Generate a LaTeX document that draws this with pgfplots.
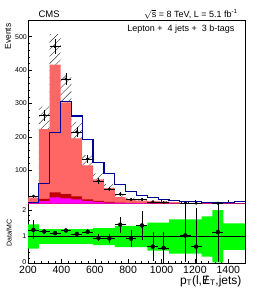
\documentclass[border=0pt]{standalone}
\usepackage{pgfplots}
\pgfplotsset{compat=1.18}
\usepackage{pgfplotstable}
\usepgfplotslibrary{fillbetween}
\usetikzlibrary{patterns.meta}
\usepackage{fontspec}
\setmainfont{Liberation Sans}
\definecolor{lred}{RGB}{255,102,102}
\definecolor{dred}{RGB}{190,0,0}
\definecolor{mag}{RGB}{255,0,255}
\definecolor{hblue}{RGB}{0,0,153}
\definecolor{gband}{RGB}{0,255,0}
\newcommand{\MET}{\ooalign{E\cr\hfil/\hfil}}

% edge tot drk mag blue hup hlo gup glo
\pgfplotstableread{
edge tot drk mag blue hup hlo gup glo
200 17.6 3 2 2 23 12 1.46 0.54
265 223 14 7 60 290 160 1.28 0.72
330 416 33 18 212 508 325 1.28 0.72
395 303 28 15 305 385 225 1.28 0.72
460 195 21 12 262 245 148 1.28 0.72
525 114 12 7 191 145 85 1.28 0.72
590 72 8 5 124 90 54 1.32 0.68
655 47 5 3 89 59 35 1.32 0.68
720 19.4 3 2 56 25 14 1.4 0.6
785 13.3 2 1.2 37 17 10 1.4 0.6
850 8.3 1.5 1 25 11 6 1.4 0.6
915 8 1 0.7 17 10.5 5.5 1.53 0.47
980 5.4 0.8 0.5 12 7 4 1.53 0.47
1045 4 0.6 0.4 9 5.2 2.8 1.65 0.35
1110 1.9 0.5 0.3 7 2.6 1.2 1.65 0.35
1175 1.6 0.4 0.3 5 2.2 1.0 1.65 0.35
1240 1.2 0.3 0.2 4 1.6 0.8 1.76 0.24
1305 0.86 0.3 0.2 3 1.2 0.5 2.0 0.02
1370 0.6 0.2 0.1 2 0.8 0.4 1.5 0.5
1435 0.5 0.2 0.1 5 0.7 0.3 1.5 0.5
1500 0.5 0.2 0.1 5 0.7 0.3 1.5 0.5
}\hist

\pgfplotstableread{
x y ex ey
232.5 22 32.5 4.7
297.5 265 32.5 16.3
362.5 470 32.5 21.7
427.5 373 32.5 19.3
492.5 215 32.5 14.7
557.5 134 32.5 11.6
622.5 68 32.5 8.2
687.5 43 32.5 6.6
752.5 28 32.5 5.3
817.5 12 32.5 3.5
882.5 12 32.5 3.5
947.5 5 32.5 2.2
1012.5 3 32.5 1.7
1142.5 2 32.5 1.4
1207.5 1 32.5 1.0
1337.5 1 32.5 1.0
}\data

\pgfplotstableread{
x y ex eyp eym
232.5 1.25 32.5 0.36 0.36
297.5 1.19 32.5 0.08 0.08
362.5 1.13 32.5 0.06 0.06
427.5 1.23 32.5 0.07 0.07
492.5 1.10 32.5 0.08 0.08
557.5 1.18 32.5 0.10 0.10
622.5 0.95 32.5 0.13 0.13
687.5 0.93 32.5 0.17 0.17
752.5 1.45 32.5 0.30 0.30
817.5 0.92 32.5 0.32 0.32
882.5 1.42 32.5 0.55 0.55
947.5 0.62 32.5 0.55 0.55
1012.5 0.57 32.5 0.60 0.57
1142.5 1.04 32.5 1.30 1.00
1207.5 0.62 32.5 1.45 0.62
1337.5 1.17 32.5 1.20 1.15
}\ratio

\pgfplotsset{
  rootstyle/.style={
    scale only axis,
    width=217pt,
    xmin=200, xmax=1500,
    tick align=inside,
    xtick pos=bottom, ytick pos=left,
    major tick length=4pt, minor tick length=2pt,
    tick style={black, line width=0.4pt},
    axis line style={line width=0.5pt},
    /pgf/number format/assume math mode=true,
    /pgf/number format/1000 sep={},
    xtick={200,400,...,1400},
    minor x tick num=4,
  }
}

\begin{document}
\begin{tikzpicture}
\begin{axis}[rootstyle,
  at={(28pt,-203.5pt)}, anchor=south west,
  height=183.5pt,
  ymin=0, ymax=550,
  ytick={100,200,300,400,500},
  minor y tick num=4,
  xticklabel=\empty,
  yticklabel style={font=\fontsize{7}{8}\selectfont, inner sep=1pt},
]
\addplot[const plot mark left, fill=lred, draw=none] table[x=edge, y=tot] {\hist} \closedcycle;
\addplot[const plot mark left, fill=dred, draw=none] table[x=edge, y=drk] {\hist} \closedcycle;
\addplot[const plot mark left, fill=mag, draw=none] table[x=edge, y=mag] {\hist} \closedcycle;
\addplot[const plot mark left, draw=none, name path=hu] table[x=edge, y=hup] {\hist};
\addplot[const plot mark left, draw=none, name path=hl] table[x=edge, y=hlo] {\hist};
\addplot[pattern={Lines[angle=45, distance=5pt, line width=0.4pt]}, pattern color=black!80] fill between[of=hu and hl];
\addplot[const plot mark left, hblue, line width=1.2pt] table[x=edge, y=blue] {\hist};
\addplot[only marks, mark=*, mark size=1.3pt, black,
  error bars/.cd, x dir=both, x explicit, y dir=both, y explicit,
  error mark=none, error bar style={line width=0.5pt}]
  table[x=x, y=y, x error=ex, y error=ey] {\data};
\end{axis}

\begin{axis}[rootstyle,
  at={(28pt,-263pt)}, anchor=south west,
  height=59.5pt,
  ymin=0, ymax=2.25,
  ytick={0,1,2},
  yticklabels={\raisebox{2pt}{0},1,2},
  minor y tick num=4,
  xticklabel style={font=\fontsize{10.5}{12}\selectfont, inner sep=1pt, yshift=-2pt},
  yticklabel style={font=\fontsize{7}{8}\selectfont, inner sep=1pt, xshift=-0.5pt},
]
\addplot[const plot mark left, draw=none, name path=gu] table[x=edge, y=gup] {\hist};
\addplot[const plot mark left, draw=none, name path=gl] table[x=edge, y=glo] {\hist};
\addplot[fill=gband, draw=none] fill between[of=gu and gl];
\addplot[black, line width=0.5pt] coordinates {(200,1) (1500,1)};
\addplot[only marks, mark=none, black,
  error bars/.cd, x dir=both, x explicit, y dir=both, y explicit,
  error mark=none, error bar style={line width=0.5pt}]
  table[x=x, y=y, x error=ex, y error plus=eyp, y error minus=eym] {\ratio};
\end{axis}

\node[anchor=west, font=\fontsize{9.5}{10}\selectfont] at (35pt,-14.5pt) {CMS};
\node[anchor=east, font=\fontsize{9}{10}\selectfont] at (241pt,-14pt) {$\sqrt{\mbox{s}}$ = 8 TeV, L = 5.1 fb\textsuperscript{-1}};
\node[anchor=east, font=\fontsize{9}{10}\selectfont] at (238pt,-29pt) {Lepton +\ \ 4 jets +\ \ 3 b-tags};
\node[rotate=90, anchor=east, font=\fontsize{8.5}{10}\selectfont] at (8pt,-20pt) {Events};
\node[rotate=90, font=\fontsize{7}{8}\selectfont] at (9pt,-233pt) {Data/MC};
\node[anchor=east, font=\fontsize{12}{13}\selectfont] at (245pt,-281pt) {p\textsubscript{T}(l,\MET\textsubscript{T},jets)};
\path (0,0) rectangle (258pt,-290pt);
\end{tikzpicture}
\end{document}
